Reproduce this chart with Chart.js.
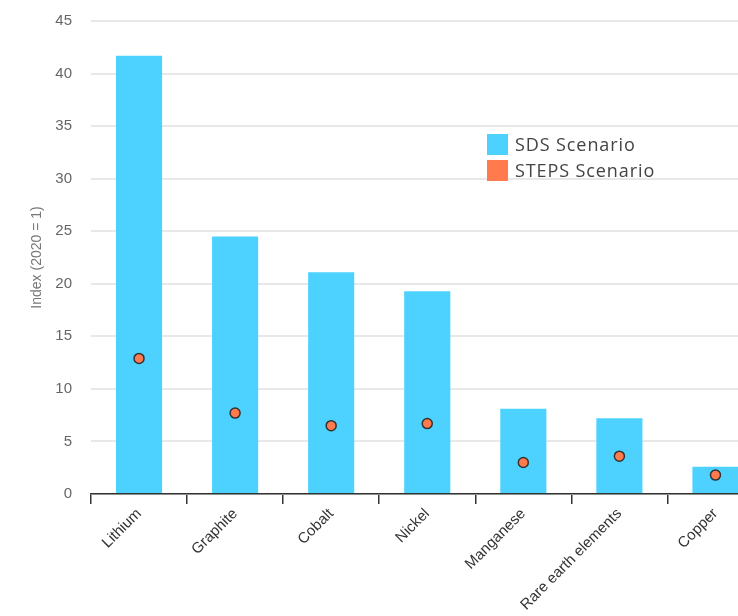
<!DOCTYPE html>
<html>
<head>
<meta charset="utf-8">
<script src="https://cdn.jsdelivr.net/npm/chart.js@4/dist/chart.umd.min.js"></script>
<style>
  html, body { margin: 0; padding: 0; background: #fff; overflow: hidden; }
  #wrap { position: relative; width: 770px; height: 616px; }
  #legend { position: absolute; left: 487px; top: 131px; font-family: "Open Sans", sans-serif; font-size: 18px; letter-spacing: 0.9px; color: #444; }
  #legend div { display: flex; align-items: center; height: 26px; }
  #legend span.box { display: inline-block; width: 21px; height: 21px; margin-right: 7px; }
</style>
</head>
<body>
<div id="wrap">
  <canvas id="chart" width="770" height="616"></canvas>
  <div id="legend"></div>
</div>
<script>
const minerals = ['Lithium', 'Graphite', 'Cobalt', 'Nickel', 'Manganese', 'Rare earth elements', 'Copper'];
const sdsValues = [41.7, 24.5, 21.1, 19.3, 8.1, 7.2, 2.6];
const stepsValues = [12.9, 7.7, 6.5, 6.7, 3.0, 3.6, 1.8];
const seriesNames = ['SDS Scenario', 'STEPS Scenario'];
const seriesColors = ['#4dd2ff', '#ff7a4d'];

// legend sits inside the plot, so build it by hand
const legend = document.getElementById('legend');
seriesNames.forEach((name, i) => {
    const row = document.createElement('div');
    const box = document.createElement('span');
    box.className = 'box';
    box.style.background = seriesColors[i];
    row.appendChild(box);
    row.appendChild(document.createTextNode(name));
    legend.appendChild(row);
});

new Chart(document.getElementById('chart'), {
    type: 'bar',
    data: {
        labels: minerals,
        datasets: [
            {
                label: seriesNames[1],
                type: 'line',
                data: stepsValues,
                showLine: false,
                pointRadius: 5,
                pointBackgroundColor: seriesColors[1],
                pointBorderColor: '#333',
                pointBorderWidth: 1.5,
                order: 0
            },
            {
                label: seriesNames[0],
                data: sdsValues,
                backgroundColor: seriesColors[0],
                categoryPercentage: 1,
                barPercentage: 0.48,
                order: 1
            }
        ]
    },
    options: {
        responsive: false,
        animation: false,
        layout: { padding: { top: 21, right: 5 } },
        plugins: {
            legend: { display: false },
            tooltip: { enabled: false }
        },
        scales: {
            x: {
                grid: { display: true, drawOnChartArea: false, drawTicks: true, tickLength: 10, color: '#333', lineWidth: 1.5 },
                border: { display: true, color: '#333', width: 1.5 },
                ticks: {
                    minRotation: 45,
                    maxRotation: 45,
                    autoSkip: false,
                    padding: 1,
                    color: '#333',
                    font: { family: 'Liberation Sans', size: 15 }
                },
                afterFit(scale) { scale.height = 122; }
            },
            y: {
                min: 0,
                max: 45,
                ticks: {
                    stepSize: 5,
                    padding: 19,
                    color: '#666',
                    font: { family: 'Liberation Sans', size: 15 }
                },
                grid: { color: '#e8e8e8', lineWidth: 2, drawTicks: false },
                border: { display: false },
                title: {
                    display: true,
                    text: 'Index (2020 = 1)',
                    color: '#777',
                    font: { family: 'Liberation Sans', size: 14 },
                    padding: { top: 29, bottom: 0 }
                },
                afterFit(scale) {
                    scale.width = 91;
                    scale.paddingTop = 0;
                    scale.paddingBottom = 0;
                }
            }
        }
    }
});
</script>
</body>
</html>
